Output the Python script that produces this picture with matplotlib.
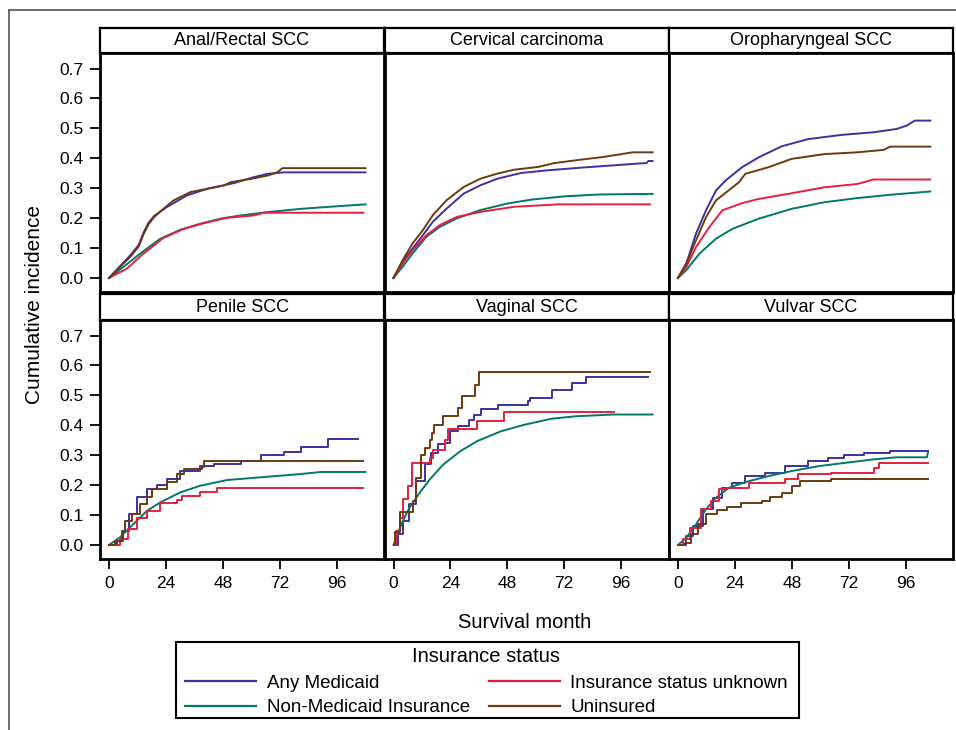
import matplotlib
matplotlib.use("Agg")
import matplotlib.pyplot as plt
from matplotlib.lines import Line2D
from matplotlib.patches import Rectangle

plt.rcParams['font.family'] = ['Liberation Sans', 'DejaVu Sans']

W, H = 956, 730

groups = ['Any Medicaid', 'Non-Medicaid Insurance', 'Insurance status unknown', 'Uninsured']
colors = {'Any Medicaid': '#3f2f9f', 'Non-Medicaid Insurance': '#00786a',
          'Insurance status unknown': '#e4203c', 'Uninsured': '#6b3a10'}
legend_order = ['Any Medicaid', 'Non-Medicaid Insurance', 'Insurance status unknown', 'Uninsured']

sites = ['Anal/Rectal SCC', 'Cervical carcinoma', 'Oropharyngeal SCC',
         'Penile SCC', 'Vaginal SCC', 'Vulvar SCC']

x_ticks = [0, 24, 48, 72, 96]
y_ticks = [0.0, 0.1, 0.2, 0.3, 0.4, 0.5, 0.6, 0.7]

# (month, cumulative incidence) pairs per site and insurance group
anal_medicaid = [(0, 0), (4.7, 0.04), (8.9, 0.075), (12.5, 0.11), (14.5, 0.15), (16.7, 0.185),
                 (19, 0.207), (24.4, 0.237), (32.9, 0.276), (41.4, 0.298), (52.7, 0.317),
                 (61.1, 0.337), (66.8, 0.348), (73.8, 0.353), (108.2, 0.353)]
anal_nonmedicaid = [(0, 0), (6.1, 0.037), (13.1, 0.081), (21.6, 0.131), (30.1, 0.161),
                    (38.5, 0.181), (47, 0.198), (55.5, 0.209), (66.8, 0.22), (80.9, 0.231),
                    (95, 0.239), (108.2, 0.246)]
anal_unknown = [(0, 0), (7.5, 0.031), (14.5, 0.081), (23, 0.134), (31.5, 0.164), (40, 0.183),
                (49.8, 0.201), (61.1, 0.209), (65.4, 0.218), (107.3, 0.218)]
anal_uninsured = [(0, 0), (4.7, 0.037), (8.9, 0.07), (12.5, 0.105), (14.5, 0.145), (16.7, 0.18),
                  (19, 0.203), (21.6, 0.222), (27.2, 0.259), (34.3, 0.287), (41.4, 0.298),
                  (48.4, 0.309), (51.3, 0.32), (59.7, 0.331), (66.8, 0.342), (71, 0.353),
                  (73.1, 0.367), (108.2, 0.367)]

cervical_medicaid = [(0, 0), (3.9, 0.054), (8.1, 0.099), (12.4, 0.143), (16.6, 0.188),
                     (22.4, 0.232), (29.6, 0.282), (36.7, 0.31), (43.9, 0.332), (53.9, 0.351),
                     (65.3, 0.36), (79.6, 0.369), (93.9, 0.377), (102.5, 0.382), (106.7, 0.384),
                     (107.5, 0.391), (109.3, 0.391)]
cervical_nonmedicaid = [(0, 0), (3.9, 0.038), (8.1, 0.082), (13.9, 0.138), (19.6, 0.171),
                        (26.7, 0.199), (36.7, 0.227), (48.2, 0.249), (58.2, 0.262),
                        (72.5, 0.273), (86.7, 0.279), (109.3, 0.281)]
cervical_unknown = [(0, 0), (3.9, 0.049), (8.1, 0.093), (13.9, 0.143), (19.6, 0.177),
                    (26.7, 0.204), (36.7, 0.221), (51, 0.238), (58.2, 0.241), (69.6, 0.246),
                    (108.2, 0.246)]
cervical_uninsured = [(0, 0), (3.9, 0.06), (8.1, 0.116), (12.4, 0.16), (16.6, 0.21), (22.4, 0.26),
                      (29.6, 0.304), (36.7, 0.332), (43.9, 0.349), (51, 0.362), (61, 0.371),
                      (67.9, 0.384), (79.6, 0.396), (88.1, 0.404), (101, 0.42), (109.3, 0.42)]

oro_medicaid = [(0, 0), (3.5, 0.048), (7.6, 0.148), (11.8, 0.226), (16, 0.292), (20.1, 0.326),
                (27, 0.37), (34, 0.403), (43.7, 0.44), (54.8, 0.464), (68.7, 0.478),
                (82.5, 0.487), (92.2, 0.498), (96.4, 0.509), (99.9, 0.526), (106.4, 0.526)]
oro_nonmedicaid = [(0, 0), (3.5, 0.026), (9, 0.081), (16, 0.131), (22.9, 0.164), (34, 0.198),
                   (47.9, 0.231), (61.7, 0.253), (75.6, 0.267), (89.5, 0.278), (106.4, 0.289)]
oro_unknown = [(0, 0), (3.5, 0.037), (7.6, 0.103), (13.2, 0.17), (18.7, 0.226), (27, 0.25),
               (34, 0.264), (47.9, 0.283), (61.7, 0.303), (75.6, 0.314), (82.5, 0.329),
               (106.4, 0.329)]
oro_uninsured = [(0, 0), (3.5, 0.048), (7.6, 0.126), (11.8, 0.203), (16, 0.259), (25.7, 0.32),
                 (28.4, 0.348), (38.1, 0.37), (47.9, 0.398), (61.7, 0.414), (75.6, 0.42),
                 (86.7, 0.428), (89.5, 0.439), (106.4, 0.439)]

penile_medicaid = [(0, 0), (3.2, 0.014), (6.1, 0.048), (8.6, 0.103), (11.7, 0.159), (16, 0.187),
                   (20.2, 0.201), (24.4, 0.22), (30.1, 0.248), (38.5, 0.264), (44.2, 0.27),
                   (55.5, 0.281), (64, 0.301), (73.8, 0.312), (80.9, 0.329), (92.2, 0.353),
                   (105.2, 0.353)]
penile_nonmedicaid = [(0, 0), (4.7, 0.026), (10.3, 0.07), (16, 0.114), (21.6, 0.142),
                      (30.1, 0.176), (38.5, 0.198), (49.8, 0.217), (66.8, 0.228), (80.9, 0.237),
                      (89.4, 0.244), (108.2, 0.244)]
penile_unknown = [(0, 0), (4.7, 0.02), (8.2, 0.053), (11.7, 0.09), (16, 0.114), (21.6, 0.139),
                  (28.7, 0.15), (30.8, 0.164), (38.5, 0.176), (45.6, 0.189), (107.3, 0.189)]
penile_uninsured = [(0, 0), (2.5, 0.014), (5.4, 0.048), (6.8, 0.081), (9.6, 0.103), (13.1, 0.137),
                    (16, 0.159), (18.1, 0.187), (24.4, 0.209), (28.7, 0.237), (31.5, 0.253),
                    (39.3, 0.261), (40, 0.281), (107, 0.281)]

vaginal_medicaid = [(0, 0), (1.7, 0.036), (3.9, 0.08), (6.7, 0.136), (9.6, 0.213), (13.1, 0.269),
                    (16, 0.308), (18.9, 0.336), (21.7, 0.342), (23.9, 0.381), (27.4, 0.397),
                    (31.7, 0.419), (33.9, 0.436), (36.7, 0.456), (43.9, 0.469), (56.7, 0.48),
                    (57.4, 0.491), (66.7, 0.519), (75.3, 0.541), (81, 0.561), (107.5, 0.561)]
vaginal_nonmedicaid = [(0, 0), (1.7, 0.036), (3.9, 0.08), (6.7, 0.124), (11, 0.174),
                       (15.3, 0.219), (21, 0.269), (28.1, 0.313), (35.3, 0.347), (45.3, 0.38),
                       (55.3, 0.402), (66.7, 0.422), (76.7, 0.43), (92.5, 0.436), (109.3, 0.436)]
vaginal_unknown = [(0, 0), (1, 0.047), (2.7, 0.091), (3.9, 0.152), (6, 0.197), (7.9, 0.274),
                   (15.3, 0.291), (16.7, 0.319), (21.7, 0.352), (23.1, 0.386), (35.3, 0.413),
                   (46.7, 0.443), (93.2, 0.443)]
vaginal_uninsured = [(0, 0), (0.7, 0.043), (2.7, 0.111), (8.1, 0.147), (9.3, 0.224),
                     (11.7, 0.302), (13.1, 0.324), (15.3, 0.352), (16.4, 0.374), (17, 0.402),
                     (21, 0.43), (27.1, 0.458), (28.9, 0.497), (34.3, 0.536), (36.2, 0.577),
                     (108.2, 0.577)]

vulvar_medicaid = [(0, 0), (3.5, 0.03), (6.2, 0.063), (10.4, 0.119), (14.6, 0.158), (18.7, 0.191),
                   (22.9, 0.208), (28.4, 0.23), (36.8, 0.241), (45.1, 0.263), (54.8, 0.28),
                   (63.1, 0.291), (70, 0.302), (78.4, 0.308), (89.5, 0.313), (105.4, 0.313)]
vulvar_nonmedicaid = [(0, 0), (3.5, 0.024), (7.6, 0.069), (11.8, 0.119), (16, 0.158),
                      (21.5, 0.191), (28.4, 0.21), (38.1, 0.23), (47.9, 0.247), (59, 0.263),
                      (70, 0.274), (82.5, 0.286), (92.2, 0.293), (105, 0.293), (105.4, 0.308)]
vulvar_unknown = [(0, 0), (2.1, 0.019), (4.9, 0.058), (9.7, 0.119), (13.9, 0.147), (17.3, 0.186),
                  (20.1, 0.191), (29.8, 0.208), (45.1, 0.219), (50.6, 0.236), (64.5, 0.241),
                  (82.5, 0.258), (84.6, 0.274), (105.4, 0.274)]
vulvar_uninsured = [(0, 0), (2.8, 0.008), (5.5, 0.036), (8.3, 0.069), (11.8, 0.102),
                    (16.6, 0.117), (20.8, 0.127), (26.4, 0.141), (35.4, 0.147), (38.8, 0.16),
                    (43.7, 0.174), (47.9, 0.197), (51.3, 0.213), (64.5, 0.222), (105.4, 0.222)]

curves = {
    'Anal/Rectal SCC': [anal_medicaid, anal_nonmedicaid, anal_unknown, anal_uninsured],
    'Cervical carcinoma': [cervical_medicaid, cervical_nonmedicaid, cervical_unknown, cervical_uninsured],
    'Oropharyngeal SCC': [oro_medicaid, oro_nonmedicaid, oro_unknown, oro_uninsured],
    'Penile SCC': [penile_medicaid, penile_nonmedicaid, penile_unknown, penile_uninsured],
    'Vaginal SCC': [vaginal_medicaid, vaginal_nonmedicaid, vaginal_unknown, vaginal_uninsured],
    'Vulvar SCC': [vulvar_medicaid, vulvar_nonmedicaid, vulvar_unknown, vulvar_uninsured],
}

# small groups show visible steps, large ones look smooth
stepped = {
    'Penile SCC': [True, False, True, True],
    'Vaginal SCC': [True, False, True, True],
    'Vulvar SCC': [True, False, True, True],
}


def box(left, top, width, height):
    return [left / W, 1 - (top + height) / H, width / W, height / H]


fig = plt.figure(figsize=(W / 100, H / 100), dpi=100)

# outer frame (top and left edges)
fig.add_artist(Line2D([9 / W, 1], [1 - 10 / H, 1 - 10 / H], transform=fig.transFigure,
                      color='#555555', lw=1.2))
fig.add_artist(Line2D([9 / W, 9 / W], [0, 1 - 10 / H], transform=fig.transFigure,
                      color='#555555', lw=1.2))

col_left = [100, 384.5, 669]
plot_top = [53, 320]
head_top = [28, 294]
col_w = 284
plot_h = 239

for i, site in enumerate(sites):
    r, c = divmod(i, 3)

    hx = fig.add_axes(box(col_left[c], head_top[r], col_w, plot_top[r] - head_top[r]))
    hx.set_xticks([])
    hx.set_yticks([])
    for s in hx.spines.values():
        s.set_linewidth(1.6)
    hx.text(0.5, 0.5, site, ha='center', va='center', fontsize=13, transform=hx.transAxes)

    ax = fig.add_axes(box(col_left[c], plot_top[r], col_w, plot_h))
    for g, pts, st in zip(groups, curves[site], stepped.get(site, [False] * 4)):
        t = [p[0] for p in pts]
        v = [p[1] for p in pts]
        ax.plot(t, v, color=colors[g], lw=1.4,
                drawstyle='steps-post' if st else 'default')
    ax.set_xlim(-3.8, 116)
    ax.set_ylim(-0.047, 0.752)
    for s in ax.spines.values():
        s.set_linewidth(2)
    ax.tick_params(direction='out', length=7, width=1.3, labelsize=12.5, pad=5)
    ax.set_xticks(x_ticks)
    ax.set_yticks(y_ticks)
    ax.set_yticklabels(['%.1f' % y for y in y_ticks])
    if r == 0:
        ax.tick_params(axis='x', bottom=False, labelbottom=False)
    if c > 0:
        ax.tick_params(axis='y', left=False, labelleft=False)

fig.text(35 / W, 1 - 304 / H, 'Cumulative incidence', rotation=90, ha='center', va='center',
         fontsize=15)
fig.text(525 / W, 1 - 623 / H, 'Survival month', ha='center', va='center', fontsize=14.5)

# legend with its own frame box
fig.add_artist(Rectangle((176 / W, 1 - 718 / H), 623 / W, 76 / H, transform=fig.transFigure,
                         fill=False, edgecolor='black', lw=1.5))
handles = [Line2D([], [], color=colors[g], lw=1.6) for g in legend_order]
leg = fig.legend(handles, legend_order, ncol=2, loc='center',
                 bbox_to_anchor=(486.5 / W, 1 - 682 / H), title='Insurance status',
                 fontsize=13.5, title_fontsize=14.5, frameon=False,
                 handlelength=3.8, handletextpad=0.55,
                 columnspacing=1.0, labelspacing=0.42, borderpad=0)

fig.savefig('out.png', dpi=100)
